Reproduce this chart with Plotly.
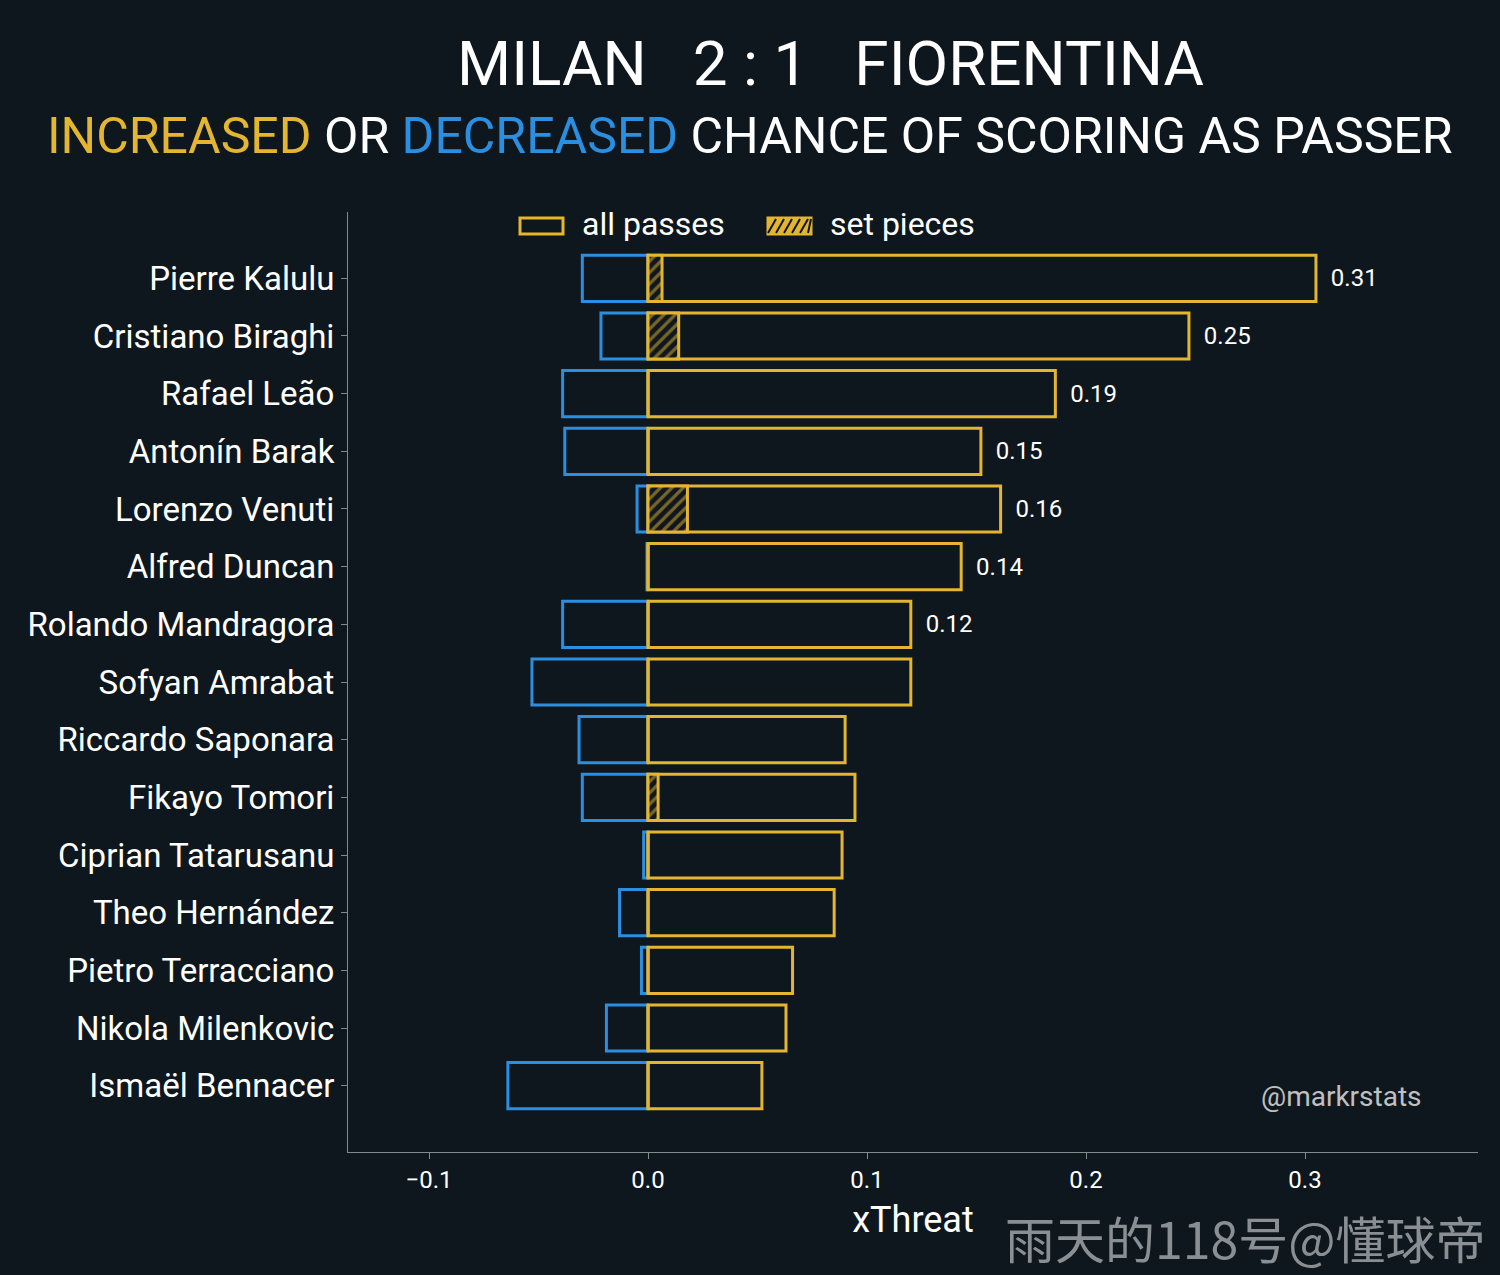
import plotly.graph_objects as go

players = ["Pierre Kalulu","Cristiano Biraghi","Rafael Leão","Antonín Barak","Lorenzo Venuti",
           "Alfred Duncan","Rolando Mandragora","Sofyan Amrabat","Riccardo Saponara","Fikayo Tomori",
           "Ciprian Tatarusanu","Theo Hernández","Pietro Terracciano","Nikola Milenkovic","Ismaël Bennacer"]
increased = [0.305,0.247,0.186,0.152,0.161,0.143,0.120,0.120,0.090,0.0945,0.0886,0.085,0.066,0.063,0.052]
decreased = [-0.030,-0.0215,-0.039,-0.038,-0.005,-0.0005,-0.039,-0.053,-0.0315,-0.030,-0.002,-0.013,-0.003,-0.019,-0.064]
set_pieces = [0.0064,0.014,0,0,0.018,0,0,0,0,0.0046,0,0,0,0,0]
labels = ["0.31","0.25","0.19","0.15","0.16","0.14","0.12","","","","","","","",""]

GOLD = "#e3b530"
BLUE = "#2a8fe0"
BG = "#0f171e"
FONT = "Roboto"

pl, pr, pt, pb = 348, 22, 212, 123
W = 1500 - pl - pr; H = 1275 - pt - pb
def px(x): return (x - pl) / W
def py(y): return (1275 - y - pb) / H

fig = go.Figure()
fig.add_trace(go.Bar(y=players, x=decreased, orientation="h", width=0.8, showlegend=False,
                     marker=dict(color="rgba(0,0,0,0)", line=dict(color=BLUE, width=3))))
fig.add_trace(go.Bar(y=players, x=increased, orientation="h", width=0.8, showlegend=False,
                     text=labels, texttemplate="  %{text}", textposition="outside",
                     textfont=dict(color="white", size=24, family=FONT), cliponaxis=False,
                     marker=dict(color="rgba(0,0,0,0)", line=dict(color=GOLD, width=3))))
fig.add_trace(go.Bar(y=players, x=set_pieces, orientation="h", width=0.8, showlegend=False,
                     marker=dict(color="rgba(0,0,0,0)", line=dict(color=GOLD, width=3),
                                 pattern=dict(shape="/", fgcolor=GOLD, bgcolor=BG, size=8, solidity=0.4))))

shapes = []
shapes.append(dict(type="rect", xref="paper", yref="paper", x0=px(520), x1=px(563), y0=py(234), y1=py(218),
                   line=dict(color=GOLD, width=3), fillcolor="rgba(0,0,0,0)"))
shapes.append(dict(type="rect", xref="paper", yref="paper", x0=px(768), x1=px(811), y0=py(234), y1=py(218),
                   line=dict(color=GOLD, width=3), fillcolor=GOLD))
for k in range(6):
    x0 = 768 + k * 8
    shapes.append(dict(type="line", xref="paper", yref="paper", x0=px(x0), x1=px(min(x0 + 8, 811)),
                       y0=py(233), y1=py(219), line=dict(color=BG, width=2)))

annotations = [
    dict(text="MILAN   2 : 1   FIORENTINA", x=px(830), y=py(63), font=dict(size=62, color="white")),
    dict(text=f"<span style='color:{GOLD}'>INCREASED</span> OR <span style='color:{BLUE}'>DECREASED</span> CHANCE OF SCORING AS PASSER",
         x=px(750), y=py(136), font=dict(size=50, color="white")),
    dict(text="all passes", x=px(580), y=py(224), xanchor="left", font=dict(size=32, color="white")),
    dict(text="set pieces", x=px(828), y=py(224), xanchor="left", font=dict(size=32, color="white")),
    dict(text="@markrstats", x=px(1341), y=py(1096), font=dict(size=28, color="#c0c0c0")),
    dict(text="雨天的118号@懂球帝", x=px(1245), y=py(1237),
         font=dict(size=50, color="#8a8f94", family="Noto Sans CJK SC")),
]
for a in annotations:
    a.setdefault("xanchor", "center")
    a.update(xref="paper", yref="paper", showarrow=False, yanchor="middle")

fig.update_layout(
    width=1500, height=1275, barmode="overlay",
    paper_bgcolor=BG, plot_bgcolor=BG,
    font=dict(family=FONT, color="white"),
    margin=dict(l=pl, r=pr, t=pt, b=pb, autoexpand=False),
    showlegend=False,
    xaxis=dict(range=[-0.137, 0.379], tickvals=[-0.1,0,0.1,0.2,0.3],
               ticktext=["\u22120.1","0.0","0.1","0.2","0.3"],
               tickfont=dict(size=24, color="white"), showgrid=False, zeroline=False,
               showline=True, linecolor="#7f8c8d", linewidth=1, ticks="outside", ticklen=6,
               tickcolor="#7f8c8d",
               title=dict(text="xThreat", font=dict(size=36, color="white"), standoff=14)),
    yaxis=dict(autorange=False, range=[15.15, -1.15], showgrid=False, zeroline=False,
               showline=True, linecolor="#7f8c8d", linewidth=1, ticks="outside", ticklen=6,
               tickcolor="#7f8c8d", tickfont=dict(size=33, color="white")),
    shapes=shapes, annotations=annotations,
)
fig.write_html("out.html", config={"displayModeBar": False})
with open("out.html", encoding="utf-8") as f:
    html = f.read()
html = html.replace("<body>", "<body style=\"margin:0;background:#0f171e\">", 1)
with open("out.html", "w", encoding="utf-8") as f:
    f.write(html)
